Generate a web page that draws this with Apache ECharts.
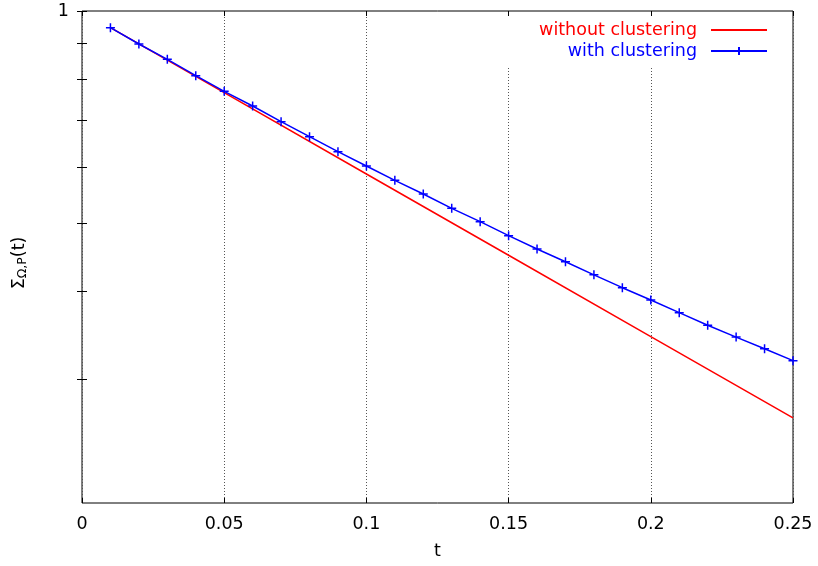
<!DOCTYPE html>
<html>
<head>
<meta charset="utf-8">
<script src="https://cdn.jsdelivr.net/npm/echarts@6/dist/echarts.min.js"></script>
<style>
  html, body { margin: 0; padding: 0; background: #fff; }
  #chart { width: 818px; height: 566px; }
</style>
</head>
<body>
<div id="chart"></div>
<script>
  // data
  const tWith = [0.01, 0.02, 0.03, 0.04, 0.05, 0.06, 0.07, 0.08, 0.09, 0.10,
    0.11, 0.12, 0.13, 0.14, 0.15, 0.16, 0.17, 0.18, 0.19, 0.20,
    0.21, 0.22, 0.23, 0.24, 0.25]
  const withClustering = [0.9469, 0.8977, 0.8537, 0.8093, 0.7690, 0.7329, 0.6962, 0.6629, 0.6312, 0.6023,
    0.5747, 0.5496, 0.5244, 0.5020, 0.4795, 0.4591, 0.4403, 0.4219, 0.4045, 0.3886,
    0.3728, 0.3577, 0.3441, 0.3313, 0.3186]
  const tWithout = [0.01, 0.05, 0.10, 0.15, 0.20, 0.25]
  const withoutClustering = [0.9469, 0.7655, 0.5867, 0.4498, 0.3446, 0.2642]

  const xTicks = [0, 0.05, 0.1, 0.15, 0.2, 0.25]
  const yTicks = [0.3, 0.4, 0.5, 0.6, 0.7, 0.8, 0.9, 1]
  const yLabels = [1]

  const font = 'DejaVu Sans, Liberation Sans, sans-serif'
  const fs = 17.5
  const chart = echarts.init(document.getElementById('chart'))

  const xBase = {
    type: 'value',
    min: 0,
    max: 0.25,
    interval: 0.05,
    axisLine: { show: false },
    axisTick: { show: true, inside: true, length: 5, customValues: xTicks, lineStyle: { color: '#000' } },
  }
  const yBase = {
    type: 'log',
    logBase: 10,
    min: 0.2,
    max: 1,
    axisLine: { show: false },
    axisTick: { show: true, inside: true, length: 5, customValues: yTicks, lineStyle: { color: '#000' } },
    splitLine: { show: false },
  }

  chart.setOption({
    animation: false,
    textStyle: { fontFamily: font },
    grid: {
      left: 82, right: 25, top: 11, bottom: 63,
      show: true, borderColor: '#000', borderWidth: 1, backgroundColor: 'transparent'
    },
    xAxis: [
      Object.assign({}, xBase, {
        position: 'bottom',
        name: 't',
        nameLocation: 'middle',
        nameGap: 39,
        nameTextStyle: { fontSize: fs, color: '#000', fontFamily: font },
        axisLabel: {
          customValues: xTicks, margin: 12, fontSize: fs, color: '#000', fontFamily: font,
          formatter: v => String(+(+v).toFixed(2))
        },
        splitLine: { show: true, lineStyle: { color: '#555', type: [1, 2], width: 1 } },
      }),
      Object.assign({}, xBase, {
        position: 'top',
        z: 10,
        axisLabel: { show: false },
        splitLine: { show: false },
      }),
    ],
    yAxis: [
      Object.assign({}, yBase, {
        position: 'left',
        name: 'Σ{sub|Ω,P}(t)',
        nameLocation: 'middle',
        nameGap: 53,
        nameTextStyle: {
          fontSize: fs, color: '#000', fontFamily: font,
          padding: [0, 12, 0, 0],
          rich: {
            sub: { fontSize: 12.5, color: '#000', fontFamily: font, verticalAlign: 'bottom', padding: [6, 0, 0, 0] }
          }
        },
        axisLabel: {
          customValues: yLabels, margin: 13, fontSize: fs, color: '#000', fontFamily: font,
          formatter: v => String(v)
        },
      }),
      Object.assign({}, yBase, {
        position: 'right',
        z: 10,
        axisLabel: { show: false },
      }),
    ],
    legend: {
      orient: 'vertical',
      align: 'right',
      right: 50,
      top: 15,
      padding: [6, 0, 6, 38],
      backgroundColor: '#fff',
      itemWidth: 56,
      itemHeight: 10,
      itemGap: 3,
      textStyle: { fontSize: fs, fontFamily: font, padding: [0, 9, 0, 0] },
      data: [
        { name: 'without clustering', textStyle: { color: '#ff0000' }, itemStyle: { opacity: 0 } },
        { name: 'with clustering', textStyle: { color: '#0000ff' } },
      ],
    },
    series: [
      {
        name: 'without clustering',
        type: 'line',
        data: tWithout.map((t, i) => [t, withoutClustering[i]]),
        symbol: 'none',
        showSymbol: false,
        color: '#ff0000',
        lineStyle: { color: '#ff0000', width: 1.5 },
        z: 2,
      },
      {
        name: 'with clustering',
        type: 'line',
        data: tWith.map((t, i) => [t, withClustering[i]]),
        symbol: 'path://M0,5L10,5M5,0L5,10',
        symbolSize: 9,
        showSymbol: true,
        color: '#0000ff',
        itemStyle: { color: 'none', borderColor: '#0000ff', borderWidth: 1.5 },
        lineStyle: { color: '#0000ff', width: 1.5 },
        z: 3,
      },
    ],
  })
</script>
</body>
</html>
